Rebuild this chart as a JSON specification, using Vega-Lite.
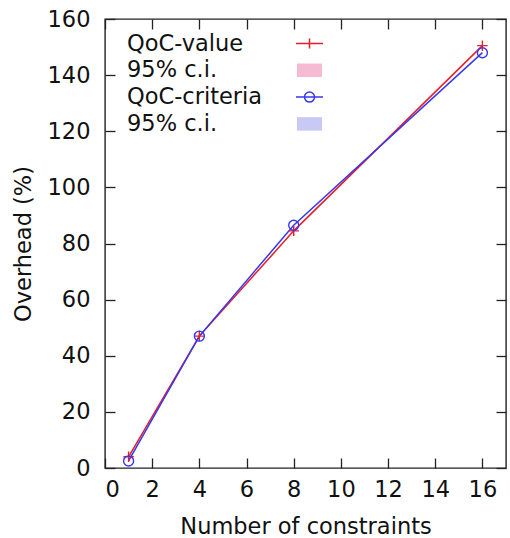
{
  "$schema": "https://vega.github.io/schema/vega-lite/v6.json",
  "width": 401,
  "height": 449,
  "autosize": {"type": "none"},
  "padding": {"left": 105, "top": 19, "right": 4, "bottom": 70},
  "background": "white",
  "data": {
    "values": [
      {"series": "value", "constraints": 1, "overhead": 4},
      {"series": "value", "constraints": 4, "overhead": 47},
      {"series": "value", "constraints": 8, "overhead": 84.5},
      {"series": "value", "constraints": 16, "overhead": 150.5},
      {"series": "criteria", "constraints": 1, "overhead": 2.5},
      {"series": "criteria", "constraints": 4, "overhead": 47},
      {"series": "criteria", "constraints": 8, "overhead": 86.5},
      {"series": "criteria", "constraints": 16, "overhead": 148}
    ]
  },
  "config": {
    "font": "DejaVu Sans",
    "view": {"stroke": "#222222", "strokeWidth": 1.4},
    "axis": {
      "domain": false,
      "grid": false,
      "tickColor": "#222222",
      "tickWidth": 1.3,
      "tickSize": -10,
      "labelFont": "DejaVu Sans",
      "labelFontSize": 22.5,
      "labelColor": "#111111",
      "titleFont": "DejaVu Sans",
      "titleFontSize": 22.5,
      "titleFontWeight": "normal",
      "titleColor": "#111111"
    },
    "legend": {
      "labelFont": "DejaVu Sans",
      "labelFontSize": 22.5,
      "labelColor": "#111111",
      "labelLimit": 400
    }
  },
  "encoding": {
    "x": {
      "field": "constraints",
      "type": "quantitative",
      "scale": {"domain": [0, 17], "nice": false, "zero": false},
      "axis": null
    },
    "y": {
      "field": "overhead",
      "type": "quantitative",
      "scale": {"domain": [0, 160], "nice": false},
      "axis": null
    }
  },
  "layer": [
    {
      "mark": {"type": "line", "strokeWidth": 1.5},
      "encoding": {
        "x": {
          "field": "constraints",
          "type": "quantitative",
          "axis": {
            "orient": "bottom",
            "values": [0, 2, 4, 6, 8, 10, 12, 14, 16],
            "labelPadding": 20,
            "title": "Number of constraints",
            "titlePadding": 15
          }
        },
        "y": {
          "field": "overhead",
          "type": "quantitative",
          "axis": {
            "orient": "left",
            "values": [0, 20, 40, 60, 80, 100, 120, 140, 160],
            "labelPadding": 25,
            "title": "Overhead (%)",
            "titlePadding": 12
          }
        },
        "stroke": {
          "field": "series",
          "type": "nominal",
          "scale": {
            "domain": ["value", "value_ci", "criteria", "criteria_ci"],
            "range": ["#e61e28", "transparent", "#3737ef", "transparent"]
          },
          "legend": {
            "title": null,
            "orient": "none",
            "legendX": 190,
            "legendY": 10,
            "padding": 0,
            "rowPadding": 0.8,
            "symbolSize": 729,
            "symbolStrokeWidth": 1.5,
            "labelOffset": -197,
            "labelExpr": "datum.value == 'value' ? 'QoC-value' : datum.value == 'criteria' ? 'QoC-criteria' : '95% c.i.'"
          }
        }
      }
    },
    {
      "transform": [{"filter": "datum.constraints < 0"}],
      "mark": {"type": "point", "opacity": 1},
      "encoding": {
        "stroke": {"field": "series", "type": "nominal"},
        "fill": {
          "field": "series",
          "type": "nominal",
          "scale": {
            "domain": ["value", "value_ci", "criteria", "criteria_ci"],
            "range": ["transparent", "#f7bad3", "transparent", "#c9c9f5"]
          }
        },
        "shape": {
          "field": "series",
          "type": "nominal",
          "scale": {
            "domain": ["value", "value_ci", "criteria", "criteria_ci"],
            "range": [
              "M-1,0H1M0,-0.37V0.37",
              "M-0.93,-0.5H0.93V0.5H-0.93Z",
              "M-1,0H1M0.37,0A0.37,0.37 0 1,1 -0.37,0A0.37,0.37 0 1,1 0.37,0",
              "M-0.93,-0.5H0.93V0.5H-0.93Z"
            ]
          }
        }
      }
    },
    {
      "transform": [{"filter": "datum.series == 'value'"}],
      "mark": {"type": "point", "shape": "M-1,0H1M0,-1V1", "size": 110, "strokeWidth": 1.4, "filled": false, "opacity": 1},
      "encoding": {
        "stroke": {"field": "series", "type": "nominal"}
      }
    },
    {
      "transform": [{"filter": "datum.series == 'criteria'"}],
      "mark": {"type": "point", "shape": "M1,0A1,1 0 1,1 -1,0A1,1 0 1,1 1,0", "size": 100, "strokeWidth": 1.4, "filled": false, "opacity": 1},
      "encoding": {
        "stroke": {"field": "series", "type": "nominal"}
      }
    },
    {
      "mark": {"type": "rule", "opacity": 0},
      "encoding": {
        "x": {
          "field": "constraints",
          "type": "quantitative",
          "axis": {"orient": "top", "values": [0, 2, 4, 6, 8, 10, 12, 14, 16], "labels": false, "title": null}
        },
        "y": {
          "field": "overhead",
          "type": "quantitative",
          "axis": {"orient": "right", "values": [0, 20, 40, 60, 80, 100, 120, 140, 160], "labels": false, "title": null}
        }
      }
    }
  ],
  "resolve": {"axis": {"x": "independent", "y": "independent"}}
}
